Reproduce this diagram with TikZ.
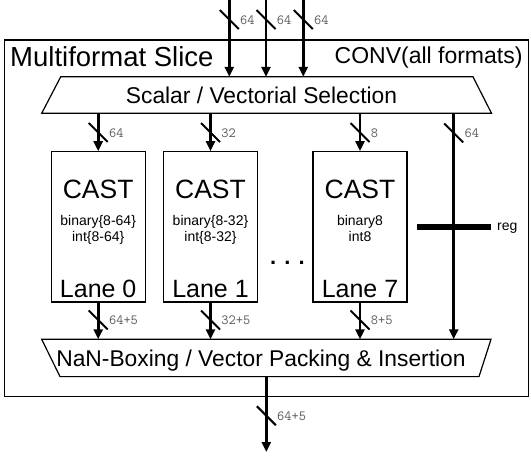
\documentclass[tikz,border=0pt]{standalone}
\usepackage{fontspec}
\setmainfont{Liberation Sans}
\usetikzlibrary{arrows.meta}

\tikzset{
  bus/.style={line width=2.6pt,-{Triangle[length=10pt,width=9pt]}},
  busslash/.style={line width=2pt},
  frame/.style={line width=1.2pt},
  slicebox/.style={draw,frame,minimum width=524pt,minimum height=356.7pt,inner sep=0pt},
  lanebox/.style={draw,frame,minimum width=94pt,minimum height=150.3pt,inner sep=0pt},
  seltxt/.style={inner sep=0pt,anchor=base,font=\fontsize{22.8}{26}\selectfont},
  titletxt/.style={inner sep=0pt,font=\fontsize{27.5}{30}\selectfont},
  conftxt/.style={inner sep=0pt,font=\fontsize{23}{26}\selectfont},
  casttxt/.style={inner sep=0pt,anchor=base,font=\fontsize{26.5}{30}\selectfont},
  lanetxt/.style={inner sep=0pt,anchor=base,font=\fontsize{25}{28}\selectfont},
  fmttxt/.style={inner sep=0pt,anchor=base,font=\fontsize{14}{16}\selectfont},
  buslbl/.style={inner sep=0pt,anchor=west,text=black!65,font=\fontsize{14}{14}\ttfamily}
}

% bus width mark: name, x, y, width
\newcommand{\busmark}[4]{%
  \draw[busslash] (#2,#3) ++(-9.5,-9.5) -- ++(19,19);
  \node[buslbl] (#1) at ({#2+10.7},{#3+0.5}) {#4};}

\begin{document}
\begin{tikzpicture}[x=1pt,y=-1pt]
  \useasboundingbox (0,0) rectangle (531,456);

  \node[slicebox,anchor=north west] (slice) at (4,39.3) {};
  \node[titletxt,anchor=base west] (title) at (10,66) {Multiformat Slice};
  \node[conftxt,anchor=base east] (conf) at (522.7,63.3) {CONV(all formats)};

  % selection and packing stages
  \coordinate (seltl) at (60.7,76.8);
  \coordinate (seltr) at (473,76.8);
  \coordinate (selbr) at (491.5,113.3);
  \coordinate (selbl) at (41.7,113.3);
  \draw[frame] (selbl) -- (seltl) -- (seltr) -- (selbr) -- cycle;
  \node[seltxt] (sel) at (261.5,103.3) {Scalar / Vectorial Selection};

  \coordinate (packtl) at (41.7,339.3);
  \coordinate (packtr) at (491,339.3);
  \coordinate (packbr) at (479,376.6);
  \coordinate (packbl) at (60,376.6);
  \draw[frame] (packtl) -- (packtr) -- (packbr) -- (packbl) -- cycle;
  \node[seltxt] (pack) at (261,366) {NaN-Boxing / Vector Packing \& Insertion};

  % lanes
  \node[lanebox] (lane0) at (98.2,226.9) {};
  \node[lanebox] (lane1) at (210.5,226.9) {};
  \node[lanebox] (lane7) at (360,226.9) {};

  \node[casttxt] (cast0) at (98.2,198) {CAST};
  \node[casttxt] (cast1) at (210.5,198) {CAST};
  \node[casttxt] (cast7) at (360,198) {CAST};
  \node[fmttxt] (bin0) at (98.2,225) {binary\{8-64\}};
  \node[fmttxt] (int0) at (98.2,241.7) {int\{8-64\}};
  \node[fmttxt] (bin1) at (210.5,225) {binary\{8-32\}};
  \node[fmttxt] (int1) at (210.5,241.7) {int\{8-32\}};
  \node[fmttxt] (bin7) at (360,225) {binary8};
  \node[fmttxt] (int7) at (360,241.7) {int8};
  \node[lanetxt] (name0) at (98.2,297) {Lane 0};
  \node[lanetxt] (name1) at (210.5,297) {Lane 1};
  \node[lanetxt] (name7) at (360,297) {Lane 7};
  \node[inner sep=0pt,anchor=base,font=\fontsize{22}{24}\selectfont\bfseries] (dots) at (287.5,264) {. . .};

  % register
  \node[fill,minimum width=74pt,minimum height=6pt,inner sep=0pt] (regbar) at (453.7,226.7) {};
  \node[fmttxt,anchor=base west] (reglbl) at (497,230.7) {reg};

  \coordinate (in0) at (229.3,0);
  \coordinate (in1) at (266,0);
  \coordinate (in2) at (303.3,0);
  \coordinate (regtop) at (regbar |- selbl);
  \coordinate (out) at (266.3,452);

  \draw[bus] (in0) -- (in0 |- seltl);
  \draw[bus] (in1) -- (in1 |- seltl);
  \draw[bus] (in2) -- (in2 |- seltl);
  \draw[bus] (lane0 |- selbl) -- (lane0.north);
  \draw[bus] (lane1 |- selbl) -- (lane1.north);
  \draw[bus] (lane7 |- selbl) -- (lane7.north);
  \draw[bus] (regtop) -- (regtop |- packtl);
  \draw[bus] (lane0.south) -- (lane0.south |- packtl);
  \draw[bus] (lane1.south) -- (lane1.south |- packtl);
  \draw[bus] (lane7.south) -- (lane7.south |- packtl);
  \draw[bus] (out |- packbl) -- (out);

  \busmark{win0}{229.3}{19.5}{64}
  \busmark{win1}{266}{19.5}{64}
  \busmark{win2}{303.3}{19.5}{64}
  \busmark{wl0}{98.2}{132.5}{64}
  \busmark{wl1}{210.5}{132.5}{32}
  \busmark{wl7}{360}{132.5}{8}
  \busmark{wreg}{453.7}{133}{64}
  \busmark{wo0}{98.2}{320}{64+5}
  \busmark{wo1}{210.5}{320}{32+5}
  \busmark{wo7}{360}{320}{8+5}
  \busmark{wout}{266.3}{415.7}{64+5}
\end{tikzpicture}
\end{document}
